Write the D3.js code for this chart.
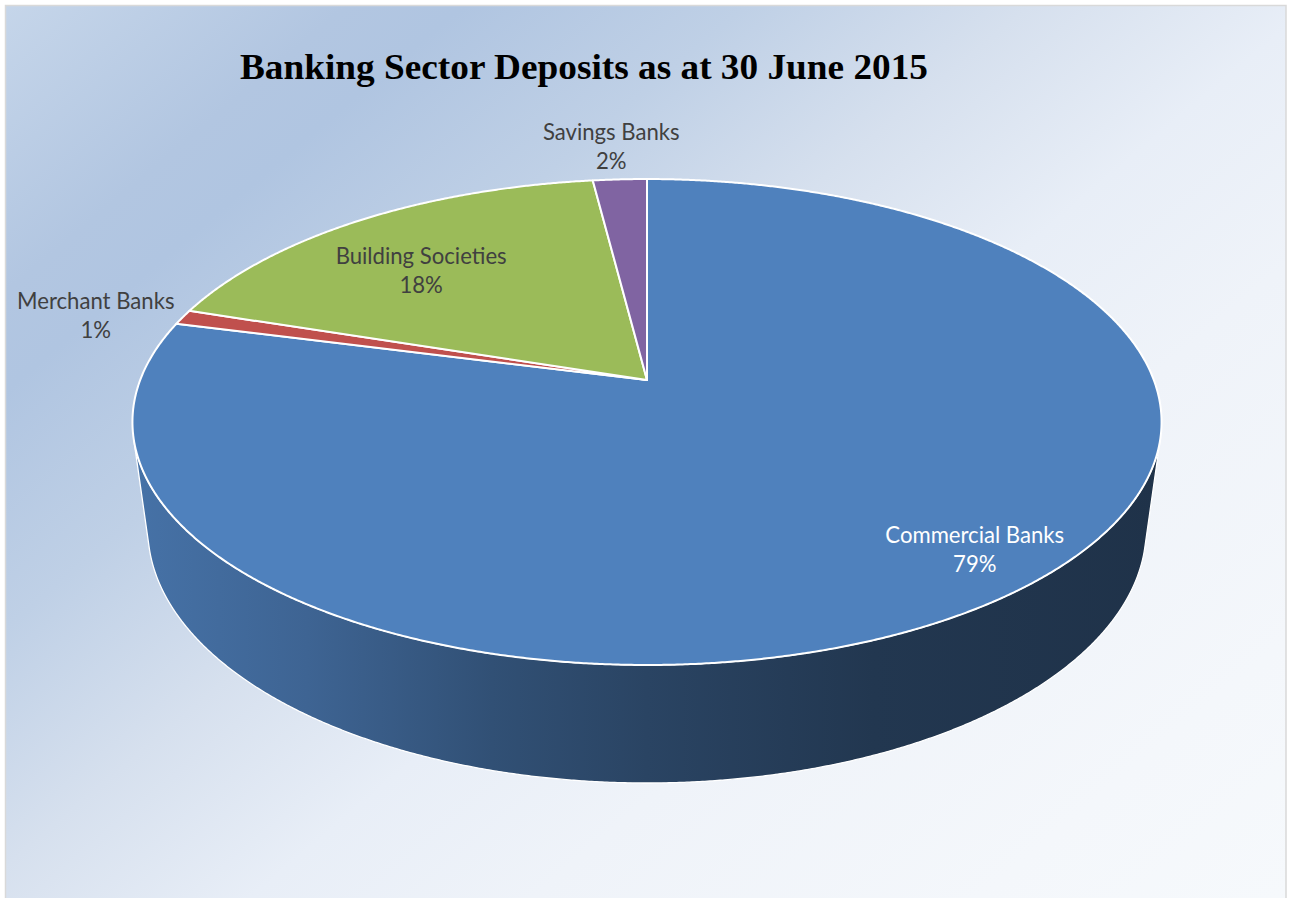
<!DOCTYPE html>
<html>
<head>
<meta charset="utf-8">
<script src="https://cdn.jsdelivr.net/npm/d3@7/dist/d3.min.js"></script>
<style>
  html, body { margin: 0; padding: 0; background: #ffffff; }
  svg { display: block; }
</style>
</head>
<body>
<svg id="chart" width="1294" height="898"></svg>
<script>
// ---- data ----
const categories = ["Commercial Banks", "Merchant Banks", "Building Societies", "Savings Banks"];
const shares = [79, 1, 18, 2];
const shareLabels = ["79%", "1%", "18%", "2%"];
const chartTitle = "Banking Sector Deposits as at 30 June 2015";

// ---- styling ----
const sliceColors = ["#4f81bd", "#c0504d", "#9bbb59", "#8064a2"];
const labelColors = ["#ffffff", "#404040", "#404040", "#404040"];
// label placement: radius factor on the top face plus a pixel nudge
const labelRadius = [0.9, 1.25, 0.7, 1.25];
const labelNudge = [[9, -13.5], [22.5, 21], [-19, 14.5], [-3, 16.5]];

const W = 1294, H = 898;
const svg = d3.select("#chart");
const defs = svg.append("defs");

// background panel gradient (diagonal, darker band near the top-left)
const bg = defs.append("linearGradient").attr("id", "bgGrad")
  .attr("gradientUnits", "userSpaceOnUse")
  .attr("x1", 0).attr("y1", 0).attr("x2", 974).attr("y2", 1160);
[[0, "#c6d6ea"], [0.15, "#b2c6e1"], [0.2, "#b0c5e1"], [0.32, "#bfd0e6"], [0.44, "#d6e0ee"],
 [0.56, "#e8eef7"], [0.68, "#eff3f9"], [0.87, "#f4f7fb"], [1, "#f6f9fc"]]
  .forEach(([o, c]) => bg.append("stop").attr("offset", o).attr("stop-color", c));

svg.append("rect").attr("x", 0).attr("y", 0).attr("width", W).attr("height", H).attr("fill", "#ffffff");
svg.append("rect").attr("x", 5.5).attr("y", 5.5).attr("width", 1280.5).attr("height", 1000)
  .attr("fill", "url(#bgGrad)").attr("stroke", "#d9d9d9").attr("stroke-width", 1.5);

// ---- 3D pie projection (pinhole camera over a tilted disc) ----
const P = { cx: 647, cy: 380, a: 506.8, b: 235.7, k: 0.1729, h: 109.7, m: 0.03 };
function proj(theta, r, z) {
  const u = r * Math.sin(theta), v = -r * Math.cos(theta);
  const w = 1 - P.k * v + P.m * z;
  return [P.cx + P.a * u / w, P.cy + (P.b * v + P.h * z) / w];
}

const pie = d3.pie().sort(null).value(d => d);
const arcs = pie(shares);
const line = d3.line();
const STEP = Math.PI / 720;

function edgePoints(a0, a1, z) {
  const n = Math.max(2, Math.ceil(Math.abs(a1 - a0) / STEP));
  return d3.range(n + 1).map(i => proj(a0 + (a1 - a0) * i / n, 1, z));
}

// which part of the side wall faces the viewer
function quadArea(t) {
  const p = [proj(t, 1, 0), proj(t + STEP, 1, 0), proj(t + STEP, 1, 1), proj(t, 1, 1)];
  return d3.polygonArea(p);
}
const frontSign = Math.sign(quadArea(Math.PI));
let lo = Math.PI, hi = Math.PI;
while (lo > 0 && Math.sign(quadArea(lo - STEP)) === frontSign) lo -= STEP;
while (hi < 2 * Math.PI && Math.sign(quadArea(hi)) === frontSign) hi += STEP;

// side walls
const wallG = svg.append("g");
arcs.forEach((d, i) => {
  const a0 = Math.max(d.startAngle, lo), a1 = Math.min(d.endAngle, hi);
  if (a1 <= a0) return;
  const gid = "wall" + i;
  const g = defs.append("linearGradient").attr("id", gid)
    .attr("gradientUnits", "userSpaceOnUse")
    .attr("x1", P.cx - 515).attr("y1", 0).attr("x2", P.cx + 515).attr("y2", 0);
  [[0, 0.35], [0.17, 0.7], [0.35, 1.35], [0.5, 1.8], [0.72, 2.4], [1, 2.65]]
    .forEach(([o, k]) => g.append("stop").attr("offset", o)
      .attr("stop-color", d3.color(sliceColors[i]).darker(k).formatHex()));
  const pts = edgePoints(a0, a1, 0).concat(edgePoints(a1, a0, 1));
  wallG.append("path")
    .attr("d", line(pts) + "Z")
    .attr("fill", `url(#${gid})`)
    .attr("stroke", "#ffffff").attr("stroke-width", 1.3).attr("stroke-linejoin", "round");
});

// top face slices
svg.append("g").selectAll("path").data(arcs).join("path")
  .attr("d", d => line([proj(0, 0, 0)].concat(edgePoints(d.startAngle, d.endAngle, 0))) + "Z")
  .attr("fill", (d, i) => sliceColors[i])
  .attr("stroke", "#ffffff").attr("stroke-width", 2).attr("stroke-linejoin", "round");

// data labels
const labelFont = "Lato, 'Open Sans', sans-serif";
const labelG = svg.append("g").attr("font-family", labelFont).attr("text-anchor", "middle");
// size the label font so the longest label spans its natural width
const probe = labelG.append("text").attr("font-size", 100).text("Commercial Banks");
const fs = 100 * 179 / probe.node().getComputedTextLength();
probe.remove();

arcs.forEach((d, i) => {
  const mid = (d.startAngle + d.endAngle) / 2;
  const [x0, y0] = proj(mid, labelRadius[i], 0);
  const x = x0 + labelNudge[i][0], y = y0 + labelNudge[i][1];
  const t = labelG.append("text").attr("font-size", fs).attr("fill", labelColors[i]);
  t.append("tspan").attr("x", x).attr("y", y - 14.5).text(categories[i]);
  t.append("tspan").attr("x", x).attr("y", y + 14.5).text(shareLabels[i]);
});

// title
svg.append("text")
  .attr("x", 240).attr("y", 79)
  .attr("font-family", "'Liberation Serif', 'Times New Roman', serif")
  .attr("font-weight", "bold").attr("font-size", 36)
  .attr("textLength", 688).attr("lengthAdjust", "spacingAndGlyphs")
  .attr("fill", "#000000")
  .text(chartTitle);
</script>
</body>
</html>
